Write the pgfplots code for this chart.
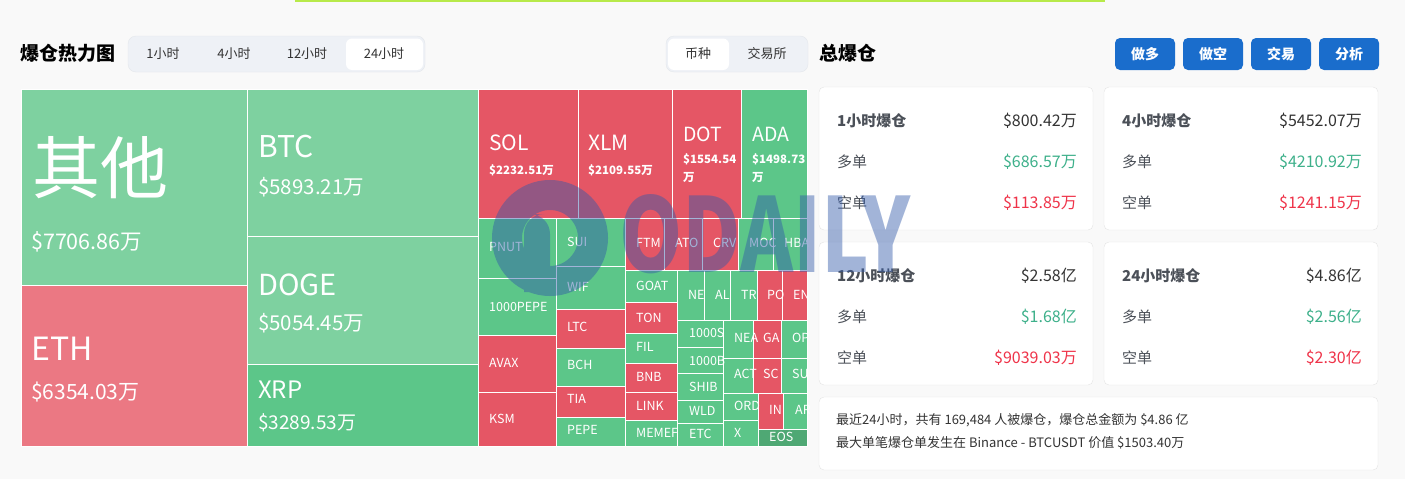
\documentclass[border=0pt]{standalone}
\usepackage{fontspec}
\setmainfont{Noto Sans CJK SC}
\usepackage{pgfplots}
\pgfplotsset{compat=1.18}

\definecolor{bg}{HTML}{F9F9F9}
\definecolor{lgreen}{HTML}{7ED1A0}
\definecolor{mgreen}{HTML}{5CC689}
\definecolor{tred}{HTML}{E55665}
\definecolor{eth}{HTML}{EB7883}
\definecolor{eos}{HTML}{4FA874}
\definecolor{tabbg}{HTML}{EEF1F6}
\definecolor{tabline}{HTML}{E4E7EC}
\definecolor{btn}{HTML}{1A6DCC}
\definecolor{cardline}{HTML}{E4E4E4}
\definecolor{txt}{HTML}{333333}
\definecolor{labc}{HTML}{4B5058}
\definecolor{upg}{HTML}{3DB08A}
\definecolor{dnr}{HTML}{EF3349}
\definecolor{wm}{HTML}{3159A9}
\definecolor{lime}{HTML}{B8EA4A}

% one treemap tile: x1 y1 x2 y2 colour (pixel units, y downwards)
\newcommand{\tile}[5]{\addplot[fill=#5,draw=white,line width=1pt] coordinates {(#1,#2) (#3,#2) (#3,#4) (#1,#4)} -- cycle;}
% white label inside a tile
\newcommand{\tl}[4]{\node[anchor=west,inner sep=0pt,text=white,font=\fontsize{#3}{#3}\selectfont] at (axis cs:#1,#2) {#4};}
% card text
\newcommand{\ct}[5]{\node[anchor=#1,inner sep=0pt,text=#4,font=\fontsize{#5}{#5}\selectfont] at (axis cs:#2,#3)}
% blue button
\newcommand{\btn}[2]{\fill[btn,rounded corners=5pt] (axis cs:#1,38) rectangle (axis cs:#1+60,70);
  \node[inner sep=0pt,text=white,font=\fontsize{14}{14}\selectfont\bfseries] at (axis cs:#1+30,54) {#2};}

\begin{document}
\begin{tikzpicture}
\begin{axis}[
    scale only axis, width=1405pt, height=479pt,
    xmin=0, xmax=1405, ymin=0, ymax=479,
    y dir=reverse, hide axis, clip=false,
  ]
  % page background and top accent line
  \fill[bg] (axis cs:0,0) rectangle (axis cs:1405,479);
  \fill[lime] (axis cs:295,0) rectangle (axis cs:1105,2);

  % ---- header, left
  \ct{west}{20}{53}{black}{19}{\bfseries 爆仓热力图};
  \draw[fill=tabbg,draw=tabline,rounded corners=8pt] (axis cs:128,36) rectangle (axis cs:425,72);
  \fill[white,rounded corners=6pt] (axis cs:346,38.5) rectangle (axis cs:423,70);
  \ct{center}{163}{54}{txt}{13}{1小时};
  \ct{center}{234}{54}{txt}{13}{4小时};
  \ct{center}{307}{54}{txt}{13}{12小时};
  \ct{center}{384}{54}{txt}{13}{24小时};
  \draw[fill=tabbg,draw=tabline,rounded corners=8pt] (axis cs:666,36) rectangle (axis cs:808,72);
  \fill[white,rounded corners=6pt] (axis cs:668,38.5) rectangle (axis cs:729,70);
  \ct{center}{698}{54}{txt}{13}{币种};
  \ct{center}{767}{54}{txt}{13}{交易所};

  % ---- treemap tiles
  \tile{21}{89}{247.5}{285.5}{lgreen}
  \tile{21}{285.5}{247.5}{446}{eth}
  \tile{247.5}{89}{478}{236.5}{lgreen}
  \tile{247.5}{236.5}{478}{364.5}{lgreen}
  \tile{247.5}{364.5}{478}{446}{mgreen}
  \tile{478}{89}{578.5}{218}{tred}
  \tile{578.5}{89}{672.5}{218}{tred}
  \tile{672.5}{89}{741.5}{218}{tred}
  \tile{741.5}{89}{807}{218}{mgreen}
  \tile{478}{218}{556.5}{278.5}{mgreen}
  \tile{478}{278.5}{556.5}{335.5}{mgreen}
  \tile{478}{335.5}{556.5}{392.5}{tred}
  \tile{478}{392.5}{556.5}{446}{tred}
  \tile{556.5}{218}{625.5}{266.5}{mgreen}
  \tile{556.5}{266.5}{625.5}{309.5}{mgreen}
  \tile{556.5}{309.5}{625.5}{348.5}{tred}
  \tile{556.5}{348.5}{625.5}{386.5}{mgreen}
  \tile{556.5}{386.5}{625.5}{417.5}{tred}
  \tile{556.5}{417.5}{625.5}{446}{mgreen}
  \tile{625.5}{218}{664.5}{270.5}{tred}
  \tile{664.5}{218}{702.5}{270.5}{tred}
  \tile{702.5}{218}{738.5}{270.5}{tred}
  \tile{738.5}{218}{773.5}{270.5}{mgreen}
  \tile{773.5}{218}{807}{270.5}{mgreen}
  \tile{625.5}{270.5}{677.5}{302.5}{mgreen}
  \tile{625.5}{302.5}{677.5}{333.5}{tred}
  \tile{625.5}{333.5}{677.5}{363.5}{mgreen}
  \tile{625.5}{363.5}{677.5}{392.5}{tred}
  \tile{625.5}{392.5}{677.5}{420.5}{tred}
  \tile{625.5}{420.5}{677.5}{446}{mgreen}
  \tile{677.5}{270.5}{704}{320.5}{mgreen}
  \tile{704}{270.5}{730.5}{320.5}{mgreen}
  \tile{730.5}{270.5}{757}{320.5}{mgreen}
  \tile{757}{270.5}{782.5}{320.5}{tred}
  \tile{782.5}{270.5}{807}{320.5}{tred}
  \tile{677.5}{320.5}{723.5}{347.5}{mgreen}
  \tile{677.5}{347.5}{723.5}{373.5}{mgreen}
  \tile{677.5}{373.5}{723.5}{400.5}{mgreen}
  \tile{677.5}{400.5}{723.5}{423.5}{mgreen}
  \tile{677.5}{423.5}{723.5}{446}{mgreen}
  \tile{723.5}{320.5}{753}{358.5}{mgreen}
  \tile{753}{320.5}{781}{358.5}{tred}
  \tile{781}{320.5}{807}{358.5}{mgreen}
  \tile{723.5}{358.5}{753}{393.5}{mgreen}
  \tile{753}{358.5}{781}{393.5}{tred}
  \tile{781}{358.5}{807}{393.5}{mgreen}
  \tile{723.5}{393.5}{758}{420.5}{mgreen}
  \tile{723.5}{420.5}{758}{446}{mgreen}
  \tile{758}{393.5}{783}{429.5}{tred}
  \tile{783}{393.5}{807}{429.5}{mgreen}
  \tile{758}{429.5}{807}{446}{eos}

  % ---- tile labels
  \tl{32}{168}{68}{其他}
  \tl{31}{242}{21.5}{\$7706.86万}
  \tl{31}{349}{32}{ETH}
  \tl{31}{392}{21}{\$6354.03万}
  \tl{258}{147}{30}{BTC}
  \tl{258}{187}{20.5}{\$5893.21万}
  \tl{258}{285}{29}{DOGE}
  \tl{258}{323}{20.5}{\$5054.45万}
  \tl{258}{390}{24}{XRP}
  \tl{258}{423}{19}{\$3289.53万}
  \tl{489}{143}{21}{SOL}
  \tl{489}{170}{11.5}{\bfseries\$2232.51万}
  \tl{588}{143}{21}{XLM}
  \tl{588}{170}{11.5}{\bfseries\$2109.55万}
  \tl{683}{134}{19.5}{DOT}
  \tl{683}{159}{11.5}{\bfseries\$1554.54}
  \tl{683}{177}{11.5}{\bfseries 万}
  \tl{752}{134}{19.5}{ADA}
  \tl{752}{159}{11.5}{\bfseries\$1498.73}
  \tl{752}{177}{11.5}{\bfseries 万}
  \tl{489}{247}{12.5}{PNUT}
  \tl{489}{307}{12.5}{1000PEPE}
  \tl{489}{363}{12.5}{AVAX}
  \tl{489}{419}{12.5}{KSM}
  \tl{567}{242}{12.5}{SUI}
  \tl{567}{287}{12.5}{WIF}
  \tl{567}{327}{12.5}{LTC}
  \tl{567}{365}{12.5}{BCH}
  \tl{567}{399}{12.5}{TIA}
  \tl{567}{430}{12.5}{PEPE}
  \tl{636}{243}{12.5}{FTM}
  \tl{675}{243}{12.5}{ATO}
  \tl{713}{243}{12.5}{CRV}
  \tl{749}{243}{12.5}{MOC}
  \tl{784}{243}{12.5}{HBA}
  \tl{636}{286}{12.5}{GOAT}
  \tl{636}{318}{12.5}{TON}
  \tl{636}{347}{12.5}{FIL}
  \tl{636}{377}{12.5}{BNB}
  \tl{636}{406}{12.5}{LINK}
  \tl{636}{433}{12.5}{MEMEF}
  \tl{688}{295}{12.5}{NE}
  \tl{715}{295}{12.5}{AL}
  \tl{741}{295}{12.5}{TR}
  \tl{767}{295}{12.5}{PO}
  \tl{793}{295}{12.5}{EN}
  \tl{689}{333}{12.5}{1000S}
  \tl{689}{361}{12.5}{1000B}
  \tl{689}{387}{12.5}{SHIB}
  \tl{689}{411}{12.5}{WLD}
  \tl{689}{434}{12.5}{ETC}
  \tl{734}{338}{12.5}{NEA}
  \tl{763}{338}{12.5}{GA}
  \tl{792}{338}{12.5}{OP}
  \tl{734}{374}{12.5}{ACT}
  \tl{763}{374}{12.5}{SC}
  \tl{792}{374}{12.5}{SU}
  \tl{734}{406}{12.5}{ORD}
  \tl{769}{410}{12.5}{IN}
  \tl{795}{410}{12.5}{AR}
  \tl{734}{433}{12.5}{X}
  \tl{769}{437}{12.5}{EOS}

  % ---- right panel
  \ct{west}{819}{53}{black}{19}{\bfseries 总爆仓};
  \btn{1115}{做多}
  \btn{1183}{做空}
  \btn{1251}{交易}
  \btn{1319}{分析}

  \draw[fill=white,draw=cardline,rounded corners=5pt] (axis cs:819,87) rectangle (axis cs:1093,230);
  \draw[fill=white,draw=cardline,rounded corners=5pt] (axis cs:1104,87) rectangle (axis cs:1378,230);
  \draw[fill=white,draw=cardline,rounded corners=5pt] (axis cs:819,242) rectangle (axis cs:1093,385);
  \draw[fill=white,draw=cardline,rounded corners=5pt] (axis cs:1104,242) rectangle (axis cs:1378,385);
  \draw[fill=white,draw=cardline,rounded corners=5pt] (axis cs:819,397) rectangle (axis cs:1378,470);

  \ct{west}{837}{121}{labc}{15}{\bfseries 1小时爆仓};
  \ct{west}{837}{162}{labc}{15}{多单};
  \ct{west}{837}{203}{labc}{15}{空单};
  \ct{east}{1077}{121}{txt}{16}{\$800.42万};
  \ct{east}{1077}{162}{upg}{16}{\$686.57万};
  \ct{east}{1077}{203}{dnr}{16}{\$113.85万};

  \ct{west}{1122}{121}{labc}{15}{\bfseries 4小时爆仓};
  \ct{west}{1122}{162}{labc}{15}{多单};
  \ct{west}{1122}{203}{labc}{15}{空单};
  \ct{east}{1362}{121}{txt}{16}{\$5452.07万};
  \ct{east}{1362}{162}{upg}{16}{\$4210.92万};
  \ct{east}{1362}{203}{dnr}{16}{\$1241.15万};

  \ct{west}{837}{276}{labc}{15}{\bfseries 12小时爆仓};
  \ct{west}{837}{317}{labc}{15}{多单};
  \ct{west}{837}{358}{labc}{15}{空单};
  \ct{east}{1077}{276}{txt}{16}{\$2.58亿};
  \ct{east}{1077}{317}{upg}{16}{\$1.68亿};
  \ct{east}{1077}{358}{dnr}{16}{\$9039.03万};

  \ct{west}{1122}{276}{labc}{15}{\bfseries 24小时爆仓};
  \ct{west}{1122}{317}{labc}{15}{多单};
  \ct{west}{1122}{358}{labc}{15}{空单};
  \ct{east}{1362}{276}{txt}{16}{\$4.86亿};
  \ct{east}{1362}{317}{upg}{16}{\$2.56亿};
  \ct{east}{1362}{358}{dnr}{16}{\$2.30亿};

  \ct{west}{836}{420}{txt}{13}{最近24小时，共有 169,484 人被爆仓，爆仓总金额为 \$4.86 亿};
  \ct{west}{836}{443}{txt}{13}{最大单笔爆仓单发生在 Binance - BTCUSDT 价值 \$1503.40万};

  % ---- watermark
  \begin{scope}[opacity=0.45,transparency group]
    \draw[wm,line width=30pt] (axis cs:550,238) circle[radius=43pt];
    \fill[wm] (axis cs:550,292) -- (axis cs:524,292)
      [rounded corners=20pt] -- (axis cs:524,214) -- (axis cs:550,214)
      [sharp corners] -- cycle;
    \node[anchor=south west,inner sep=0pt,text=wm] at (axis cs:619,274)
      {\resizebox{291pt}{78pt}{\bfseries ODAILY}};
  \end{scope}
\end{axis}
\end{tikzpicture}
\end{document}
